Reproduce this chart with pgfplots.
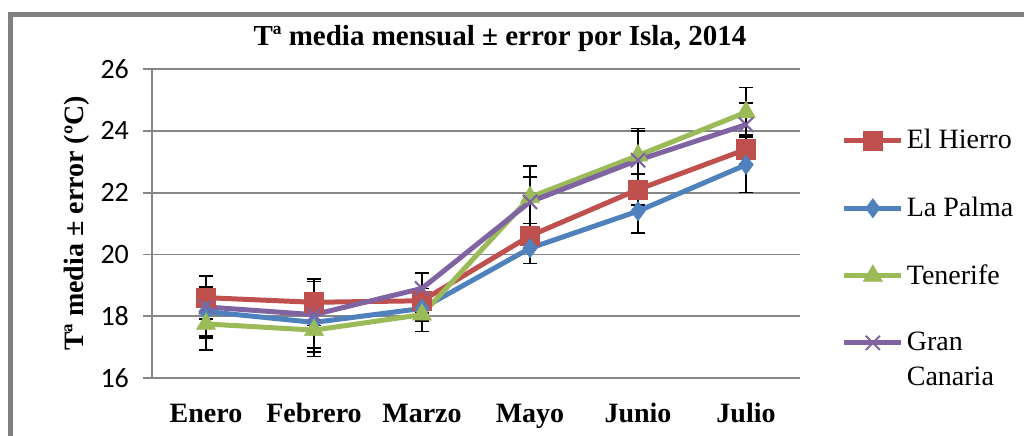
\documentclass[border=0pt]{standalone}
\usepackage{fontspec}
\setmainfont{Liberation Serif}
\newfontfamily\carlito{Carlito}
\usepackage{pgfplots}
\usepackage{pgfplotstable}
\pgfplotsset{compat=1.18}
\definecolor{cEH}{RGB}{192,80,77}
\definecolor{cLP}{RGB}{79,129,189}
\definecolor{cTF}{RGB}{155,187,89}
\definecolor{cGC}{RGB}{128,100,162}
\definecolor{axgray}{RGB}{134,134,134}
\pgfplotstableread{
x y e
0 18.60 0.70
1 18.45 0.75
2 18.50 0.40
3 20.60 0.40
4 22.10 0.50
5 23.40 0.46
}\eh
\pgfplotstableread{
x y e
0 18.15 0.80
1 17.80 0.95
2 18.25 0.40
3 20.20 0.50
4 21.40 0.70
5 22.90 0.90
}\lp
\pgfplotstableread{
x y e
0 17.75 0.85
1 17.55 0.85
2 18.05 0.55
3 21.85 1.02
4 23.20 0.88
5 24.60 0.80
}\tf
\pgfplotstableread{
x y e
0 18.30 1.00
1 18.05 1.07
2 18.90 0.50
3 21.70 0.80
4 23.05 0.95
5 24.20 0.70
}\gc
\pgfplotsset{errb/.style={draw=none, mark=none, forget plot,
  error bars/.cd, y dir=both, y explicit,
  error bar style={draw=black, solid, line width=0.8pt},
  error mark options={draw=black, rotate=90, mark size=3.5pt, line width=0.8pt}}}
\begin{document}
\begin{tikzpicture}
\useasboundingbox (0,0) rectangle (512pt,217.5pt);
\draw[line width=2.5pt, color=gray] (5.25pt,-2pt) -- (5.25pt,210.25pt) -- (514pt,210.25pt);
\begin{axis}[
  at={(76pt,28.5pt)}, anchor=south west,
  scale only axis, width=324pt, height=154.5pt,
  xmin=-0.5, xmax=5.5, ymin=16, ymax=26,
  axis x line*=bottom, axis y line*=left,
  axis line style={axgray, line width=0.9pt, -},
  ytick={16,18,...,26},
  xtick={0,...,5},
  xticklabels={Enero,Febrero,Marzo,Mayo,Junio,Julio},
  minor xtick={-0.5,0.5,...,5.5},
  tick align=outside,
  major tick length=4.5pt, minor tick length=4pt,
  xtick style={draw=none},
  minor tick style={draw=axgray, line width=0.9pt},
  ytick style={draw=axgray, line width=0.9pt},
  ymajorgrids, grid style={axgray, line width=0.9pt},
  /pgf/number format/assume math mode=true,
  yticklabel style={font=\carlito\fontsize{14}{16}\selectfont, xshift=-3.5pt},
  xticklabel style={font=\bfseries\fontsize{14}{16}\selectfont, anchor=base, yshift=-17.5pt},
  title={Tª media mensual ± error por Isla, 2014},
  every axis title/.style={at={(axis description cs:0.537,1.100)}, anchor=center, font=\bfseries\fontsize{14.5}{17}\selectfont},
  ylabel={Tª media ± error (ºC)},
  every axis y label/.style={at={(axis description cs:-0.1157,0.5)}, rotate=90, anchor=center, font=\bfseries\fontsize{14}{16}\selectfont},
  legend cell align=left,
  legend style={draw=none, fill=none, at={(axis description cs:1.064,0.815)}, anchor=north west,
    font=\fontsize{14}{16}\selectfont, row sep=19.5pt, inner sep=0pt, nodes={inner sep=1.5pt}},
  legend image code/.code={\draw[mark repeat=2,mark phase=2,#1] plot coordinates {(0pt,0pt) (14.25pt,0pt) (28.5pt,0pt)};},
  clip=false,
]
\addplot[errb] table[x=x, y=y, y error=e] {\eh};
\addplot[errb] table[x=x, y=y, y error=e] {\lp};
\addplot[errb] table[x=x, y=y, y error=e] {\tf};
\addplot[errb] table[x=x, y=y, y error=e] {\gc};
\addplot[cEH, line width=2.5pt, mark=square*, mark size=4.8pt, mark options={solid, fill=cEH, draw=cEH, line width=0.3pt}] table[x=x,y=y] {\eh};
\addplot[cLP, line width=2.5pt, mark=diamond*, mark size=4.8pt, mark options={solid, fill=cLP, draw=cLP, line width=0.3pt}] table[x=x,y=y] {\lp};
\addplot[cTF, line width=2.5pt, mark=triangle*, mark size=5.5pt, mark options={solid, fill=cTF, draw=cTF, line width=0.3pt}] table[x=x,y=y] {\tf};
\addplot[cGC, line width=2.5pt, mark=x, mark size=5pt, mark options={solid, draw=cGC, line width=1pt}] table[x=x,y=y] {\gc};
\legend{El Hierro, La Palma, Tenerife, {\rlap{\raisebox{-17.5pt}{Canaria}}Gran}}
\end{axis}
\end{tikzpicture}
\end{document}
